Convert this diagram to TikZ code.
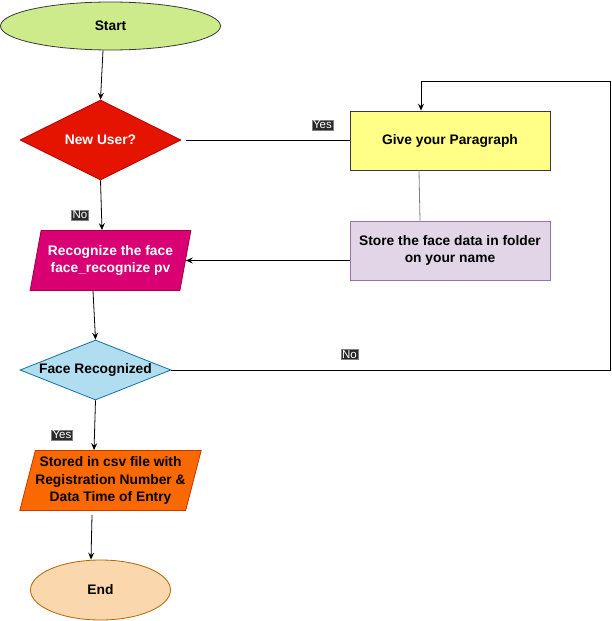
\documentclass[tikz,border=0pt]{standalone}
\usepackage{fontspec}
\setmainfont{Liberation Sans}
\usetikzlibrary{shapes.geometric,arrows.meta,calc}
\definecolor{startfill}{HTML}{CDEB8B}
\definecolor{darkstroke}{HTML}{36393D}
\definecolor{redfill}{HTML}{E51400}
\definecolor{redstroke}{HTML}{B20000}
\definecolor{yellowfill}{HTML}{FFFF88}
\definecolor{purplefill}{HTML}{E1D5E7}
\definecolor{purplestroke}{HTML}{9673A6}
\definecolor{pinkfill}{HTML}{D80073}
\definecolor{pinkstroke}{HTML}{A50040}
\definecolor{bluefill}{HTML}{B1DDF0}
\definecolor{bluestroke}{HTML}{10739E}
\definecolor{orangefill}{HTML}{FA6800}
\definecolor{orangestroke}{HTML}{C73500}
\definecolor{endfill}{HTML}{FAD7AC}
\definecolor{endstroke}{HTML}{B46504}
\definecolor{labbg}{HTML}{2A2A2A}
\begin{document}
\begin{tikzpicture}[x=1pt,y=-1pt,
  base/.style={font=\fontsize{13.8}{17.5}\selectfont\bfseries, align=center, inner sep=0pt, line width=0.8pt},
  lab/.style={fill=labbg, draw=gray, text=white, font=\fontsize{11.5}{12}\selectfont, inner sep=1pt},
  arr/.style={-{Stealth[length=7pt,width=6pt,inset=2.5pt]}, line width=0.8pt},
  ln/.style={line width=0.8pt},
  para/.style={base, trapezium, trapezium stretches=true, trapezium left angle=72, trapezium right angle=108, minimum width=161pt, minimum height=60pt}
]
\useasboundingbox (0,0) rectangle (612,621);

\node[base, ellipse, draw=darkstroke, fill=startfill, minimum width=220pt, minimum height=48pt] (Start) at (110.5,26) {Start};
\node[base, diamond, aspect=2, draw=redstroke, fill=redfill, text=white, minimum width=161pt, minimum height=80pt] (NU) at (100.5,140) {New User?};
\node[base, rectangle, draw=darkstroke, fill=yellowfill, minimum width=200pt, minimum height=59pt] (Give) at (450,140.5) {Give your Paragraph};
\node[base, rectangle, draw=purplestroke, fill=purplefill, minimum width=200pt, minimum height=59pt] (Store) at (450,250.5) {Store the face data in folder\\on your name};
\node[para, draw=pinkstroke, fill=pinkfill, text=white] (RF) at (110.5,260.5) {Recognize the face\\face\_recognize pv};
\node[base, diamond, aspect=2.5, draw=bluestroke, fill=bluefill, minimum width=151pt, minimum height=60pt] (FR) at (95.5,370) {Face Recognized};
\node[para, draw=orangestroke, fill=orangefill] (SD) at (110.5,480.5) {Stored in csv file with\\Registration Number \&\\Data Time of Entry};
\node[base, ellipse, draw=endstroke, fill=endfill, minimum width=140pt, minimum height=60pt] (End) at (100.5,590) {End};

\coordinate (c1) at (610,370);
\coordinate (c2) at (610,81);
\coordinate (c3) at (421,81);

\draw[arr] ($(Start.south)+(-7.5,0)$) -- (NU.north);
\draw[ln, shorten <=5pt] (NU.east) -- (NU.east -| Give.west);
\draw[ln, gray] ($(Give.south)+(-31,0)$) -- ($(Store.north)+(-30,0)$);
\draw[arr] (RF.east -| Store.west) -- (RF.east);
\draw[arr] (NU.south) -- ($(RF.north)+(-8.5,0)$);
\draw[arr] ($(RF.south)+(-17.5,0)$) -- (FR.north);
\draw[arr] (FR.east) -- (c1) -- (c2) -- (c3) -- (c3 |- Give.north);
\draw[arr] (FR.south) -- ($(SD.north)+(-16.5,0)$);
\draw[arr] ($(SD.south)+(-18.5,4)$) -- ($(End.north)+(-9.5,0)$);

\node[lab] (y1) at (322.5,125) {Yes};
\node[lab] (n1) at (80,215) {No};
\node[lab] (n2) at (349.5,354.5) {No};
\node[lab] (y2) at (62,435) {Yes};
\end{tikzpicture}
\end{document}
